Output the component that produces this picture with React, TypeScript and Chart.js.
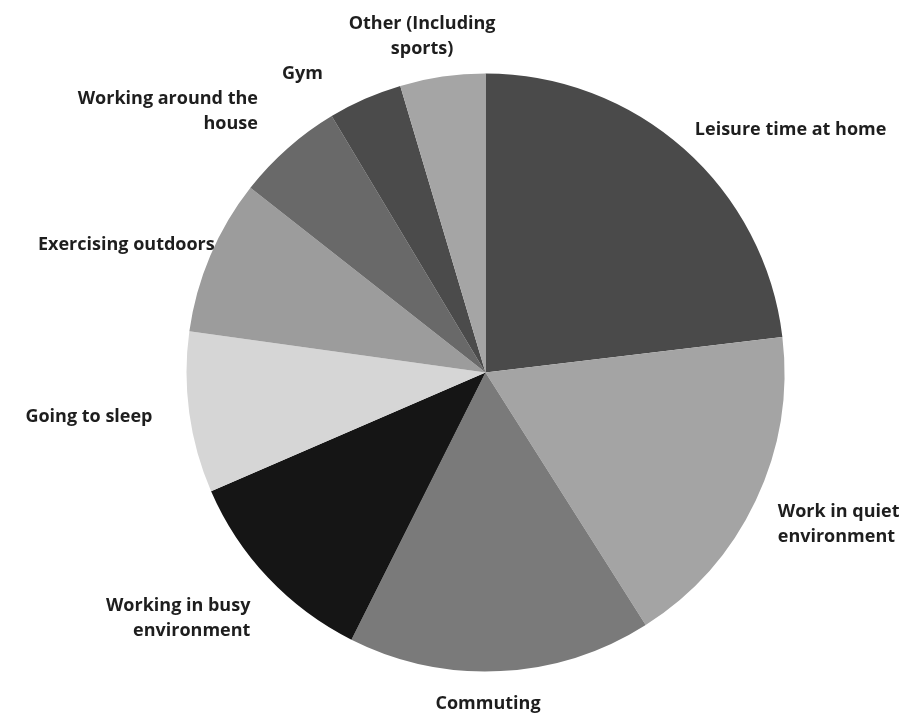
import React, { useEffect, useRef } from "react";
import { Chart, registerables } from "chart.js";

Chart.register(...registerables);

const categories: string[][] = [
  ["Leisure time at home"],
  ["Work in quiet", "environment"],
  ["Commuting"],
  ["Working in busy", "environment"],
  ["Going to sleep"],
  ["Exercising outdoors"],
  ["Working around the", "house"],
  ["Gym"],
  ["Other (Including", "sports)"],
];
const shares: number[] = [23.1, 17.9, 16.4, 11.1, 8.7, 8.4, 5.8, 4.0, 4.6];
const sliceColors: string[] = [
  "#4a4a4a",
  "#a4a4a4",
  "#7a7a7a",
  "#151515",
  "#d6d6d6",
  "#9c9c9c",
  "#696969",
  "#4b4b4b",
  "#a5a5a5",
];

// small "best fit" adjustments of each outside label relative to its radial anchor
const labelNudge: [number, number][] = [
  [-9, 3],
  [-5, 11],
  [-14, 3],
  [4, 20],
  [-7, 0],
  [32, 1],
  [-10, -14],
  [-30, 2],
  [-16, -11],
];

const outsideLabels = {
  id: "outsideLabels",
  afterDatasetsDraw(chart: any) {
    const ctx = chart.ctx;
    const meta = chart.getDatasetMeta(0);
    ctx.save();
    ctx.font = "bold 18px 'Open Sans', sans-serif";
    ctx.fillStyle = "#1e1e1e";
    ctx.textBaseline = "middle";
    const lineH = 25;
    meta.data.forEach((arc: any, i: number) => {
      const p = arc.getProps(["x", "y", "startAngle", "endAngle", "outerRadius"], true);
      const mid = (p.startAngle + p.endAngle) / 2;
      const c = Math.cos(mid);
      const s = Math.sin(mid);
      const R = p.outerRadius + 30;
      const nd = labelNudge[i] || [0, 0];
      const ax = p.x + c * R + nd[0];
      const ay = p.y + s * R + nd[1];
      let align: CanvasTextAlign = "center";
      if (Math.abs(c) >= 0.2) align = c > 0 ? "left" : "right";
      ctx.textAlign = align;
      const lines = categories[i];
      const y0 = ay - ((lines.length - 1) * lineH) / 2;
      lines.forEach((t, k) => ctx.fillText(t, ax, y0 + k * lineH));
    });
    ctx.restore();
  },
};

export default function App() {
  const ref = useRef<HTMLCanvasElement | null>(null);
  useEffect(() => {
    if (!ref.current) return;
    const chart = new Chart(ref.current, {
      type: "pie",
      data: {
        labels: categories.map((l) => l.join(" ")),
        datasets: [
          {
            data: shares,
            backgroundColor: sliceColors,
            borderWidth: 0,
          },
        ],
      },
      options: {
        responsive: false,
        animation: false,
        layout: { padding: { left: 186.5, right: 122.5, top: 73.5, bottom: 41.5 } },
        plugins: {
          legend: { display: false },
          tooltip: { enabled: false },
          title: { display: false },
        },
      },
      plugins: [outsideLabels],
    });
    return () => chart.destroy();
  }, []);
  return (
    <div style={{ position: "fixed", left: 0, top: 0, width: 907, height: 713, background: "#fff" }}>
      <canvas ref={ref} width={907} height={713} style={{ width: 907, height: 713 }} />
    </div>
  );
}
